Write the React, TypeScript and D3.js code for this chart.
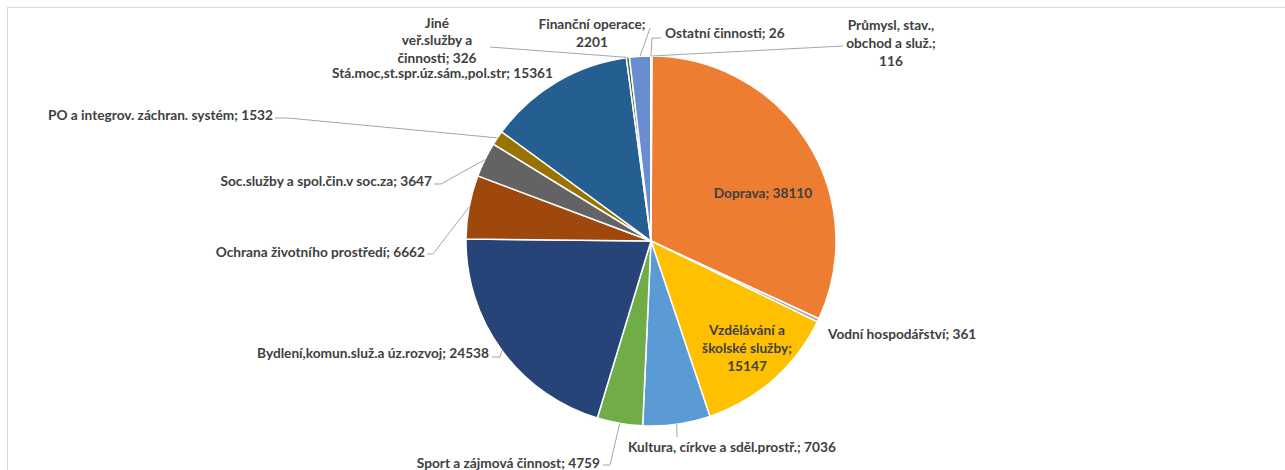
import React from "react";
import * as d3 from "d3";

const categories = [
  "Průmysl, stav., obchod a služ.",
  "Doprava",
  "Vodní hospodářství",
  "Vzdělávání a školské služby",
  "Kultura, církve a sděl.prostř.",
  "Sport a zájmová činnost",
  "Bydlení,komun.služ.a úz.rozvoj",
  "Ochrana životního prostředí",
  "Soc.služby a spol.čin.v soc.za",
  "PO a integrov. záchran. systém",
  "Stá.moc,st.spr.úz.sám.,pol.str",
  "Jiné veř.služby a činnosti",
  "Finanční operace",
  "Ostatní činnosti",
];

const values = [116, 38110, 361, 15147, 7036, 4759, 24538, 6662, 3647, 1532, 15361, 326, 2201, 26];

const colors = [
  "#4472C4", "#ED7D31", "#A5A5A5", "#FFC000", "#5B9BD5", "#70AD47",
  "#264478", "#9E480E", "#636363", "#997300", "#255E91", "#43682B",
  "#698ED0", "#F1975A",
];

// label layout: lines of text, anchor, position of first line center, line step, leader polyline (from label side)
type Layout = { lines: string[]; anchor: string; x: number; y: number; step?: number; leader: [number, number][] | null };
const layout: Layout[] = [
  { lines: ["Průmysl, stav.,", "obchod a služ.;", "116"], anchor: "middle", x: 891, y: 25, leader: [[843, 46]] },
  { lines: ["Doprava; 38110"], anchor: "middle", x: 763, y: 193, leader: null },
  { lines: ["Vodní hospodářství; 361"], anchor: "start", x: 828, y: 334, leader: null },
  { lines: ["Vzdělávání a", "školské služby;", "15147"], anchor: "middle", x: 747, y: 330, leader: null },
  { lines: ["Kultura, církve a sděl.prostř.; 7036"], anchor: "start", x: 628, y: 447, leader: [[677, 437]] },
  { lines: ["Sport a zájmová činnost; 4759"], anchor: "end", x: 600, y: 463, leader: [[603, 465], [610, 465]] },
  { lines: ["Bydlení,komun.služ.a úz.rozvoj; 24538"], anchor: "end", x: 489, y: 353, leader: [[492, 357], [500, 357]] },
  { lines: ["Ochrana životního prostředí; 6662"], anchor: "end", x: 425, y: 252, leader: [[427, 254], [433, 254]] },
  { lines: ["Soc.služby a spol.čin.v soc.za; 3647"], anchor: "end", x: 432, y: 181, leader: [[434, 184], [441, 184]] },
  { lines: ["PO a integrov. záchran. systém; 1532"], anchor: "end", x: 273, y: 115, leader: [[275, 118], [288, 118]] },
  { lines: ["Stá.moc,st.spr.úz.sám.,pol.str; 15361"], anchor: "end", x: 553, y: 73, leader: null },
  { lines: ["Jiné", "veř.služby a", "činnosti; 326"], anchor: "middle", x: 437, y: 23, step: 17.5, leader: [[490, 47]] },
  { lines: ["Finanční operace;", "2201"], anchor: "middle", x: 592, y: 24, leader: [[650, 28]] },
  { lines: ["Ostatní činnosti; 26"], anchor: "start", x: 665, y: 33, leader: [[661, 38], [652, 38]] },
];

const W = 1285;
const H = 470;
const cx = 651;
const cy = 241;
const R = 185;

export default function App() {
  const pie = d3.pie<number>().sort(null).value((d) => d)(values);
  const arc = d3.arc<d3.PieArcDatum<number>>().innerRadius(0).outerRadius(R);
  const lineGen = d3.line();
  return (
    <svg width={W} height={H} style={{ position: "absolute", left: 0, top: 0, background: "#fff" }}>
      <rect x={7.5} y={7.5} width={W + 20} height={H + 20} fill="#fff" stroke="#d9d9d9" strokeWidth={1} />
      <g transform={`translate(${cx},${cy})`}>
        {pie.map((p, i) => (
          <path key={i} d={arc(p) || ""} fill={colors[i]} stroke="#fff" strokeWidth={1.5} />
        ))}
      </g>
      {pie.map((p, i) => {
        const L = layout[i];
        if (!L.leader) return null;
        const mid = (p.startAngle + p.endAngle) / 2;
        const ax = cx + R * Math.sin(mid);
        const ay = cy - R * Math.cos(mid);
        const pts: [number, number][] = [...L.leader, [ax, ay]];
        return <path key={"l" + i} d={lineGen(pts) || ""} fill="none" stroke="#a6a6a6" strokeWidth={1} />;
      })}
      {layout.map((L, i) => (
        <text
          key={"t" + i}
          textAnchor={L.anchor as any}
          fontFamily="Lato, 'Open Sans', sans-serif"
          fontWeight="bold"
          fontSize={13.7}
          fill="#404040"
        >
          {L.lines.map((ln, j) => (
            <tspan key={j} x={L.x} y={L.y + j * (L.step ?? 18)} dy="0.35em">
              {ln}
            </tspan>
          ))}
        </text>
      ))}
    </svg>
  );
}
